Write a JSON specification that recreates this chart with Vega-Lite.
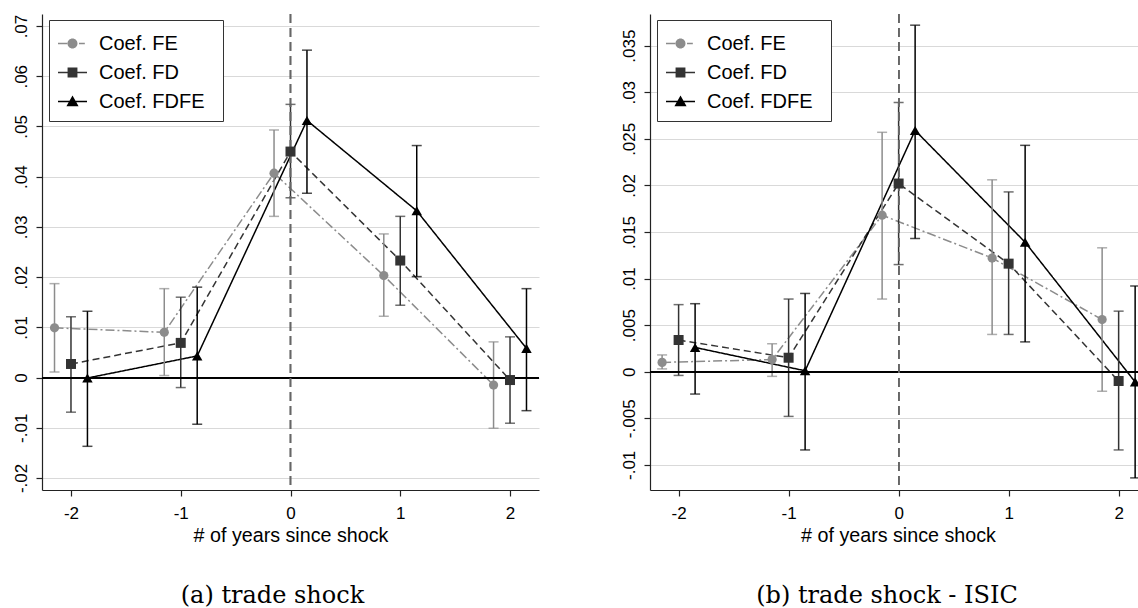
{
  "$schema": "https://vega.github.io/schema/vega-lite/v6.json",
  "background": "white",
  "padding": {"left": 11, "top": 13, "right": 0, "bottom": 0},
  "bounds": "flush",
  "spacing": 111,
  "datasets": {
    "a": [
      {"series": "Coef. FE", "x": -2.15, "coef": 0.0099, "lo": 0.0011, "hi": 0.0187},
      {"series": "Coef. FE", "x": -1.15, "coef": 0.0090, "lo": 0.0004, "hi": 0.0177},
      {"series": "Coef. FE", "x": -0.15, "coef": 0.0407, "lo": 0.0321, "hi": 0.0493},
      {"series": "Coef. FE", "x": 0.85, "coef": 0.0203, "lo": 0.0122, "hi": 0.0286},
      {"series": "Coef. FE", "x": 1.85, "coef": -0.0015, "lo": -0.0101, "hi": 0.0071},
      {"series": "Coef. FD", "x": -2, "coef": 0.0027, "lo": -0.0069, "hi": 0.0121},
      {"series": "Coef. FD", "x": -1, "coef": 0.0069, "lo": -0.0020, "hi": 0.0160},
      {"series": "Coef. FD", "x": 0, "coef": 0.0450, "lo": 0.0358, "hi": 0.0544},
      {"series": "Coef. FD", "x": 1, "coef": 0.0233, "lo": 0.0144, "hi": 0.0321},
      {"series": "Coef. FD", "x": 2, "coef": -0.0005, "lo": -0.0091, "hi": 0.0081},
      {"series": "Coef. FDFE", "x": -1.85, "coef": -0.0001, "lo": -0.0137, "hi": 0.0132},
      {"series": "Coef. FDFE", "x": -0.85, "coef": 0.0043, "lo": -0.0093, "hi": 0.0180},
      {"series": "Coef. FDFE", "x": 0.15, "coef": 0.0512, "lo": 0.0367, "hi": 0.0652},
      {"series": "Coef. FDFE", "x": 1.15, "coef": 0.0332, "lo": 0.0201, "hi": 0.0462},
      {"series": "Coef. FDFE", "x": 2.15, "coef": 0.0058, "lo": -0.0066, "hi": 0.0177}
    ],
    "b": [
      {"series": "Coef. FE", "x": -2.15, "coef": 0.0010, "lo": 0.0003, "hi": 0.0018},
      {"series": "Coef. FE", "x": -1.15, "coef": 0.0013, "lo": -0.0005, "hi": 0.0030},
      {"series": "Coef. FE", "x": -0.15, "coef": 0.0168, "lo": 0.0078, "hi": 0.0257},
      {"series": "Coef. FE", "x": 0.85, "coef": 0.0122, "lo": 0.0040, "hi": 0.0206},
      {"series": "Coef. FE", "x": 1.85, "coef": 0.0056, "lo": -0.0021, "hi": 0.0133},
      {"series": "Coef. FD", "x": -2, "coef": 0.0034, "lo": -0.0004, "hi": 0.0072},
      {"series": "Coef. FD", "x": -1, "coef": 0.0015, "lo": -0.0048, "hi": 0.0078},
      {"series": "Coef. FD", "x": 0, "coef": 0.0202, "lo": 0.0115, "hi": 0.0289},
      {"series": "Coef. FD", "x": 1, "coef": 0.0116, "lo": 0.0040, "hi": 0.0193},
      {"series": "Coef. FD", "x": 2, "coef": -0.0010, "lo": -0.0084, "hi": 0.0065},
      {"series": "Coef. FDFE", "x": -1.85, "coef": 0.0026, "lo": -0.0024, "hi": 0.0073},
      {"series": "Coef. FDFE", "x": -0.85, "coef": 0.0001, "lo": -0.0084, "hi": 0.0084},
      {"series": "Coef. FDFE", "x": 0.15, "coef": 0.0259, "lo": 0.0143, "hi": 0.0372},
      {"series": "Coef. FDFE", "x": 1.15, "coef": 0.0139, "lo": 0.0032, "hi": 0.0243},
      {"series": "Coef. FDFE", "x": 2.15, "coef": -0.0011, "lo": -0.0114, "hi": 0.0092}
    ]
  },
  "hconcat": [
    {
      "width": 497,
      "height": 476,
      "data": {"name": "a"},
      "title": {"text": "(a) trade shock", "orient": "bottom", "anchor": "middle", "frame": "group", "font": "DejaVu Serif", "fontSize": 24, "fontWeight": "normal", "color": "black", "offset": 39, "dx": -18},
      "layer": [
        {
          "mark": {"type": "line", "strokeWidth": 1.5},
          "encoding": {
            "x": {"field": "x", "type": "quantitative", "title": "# of years since shock",
                  "scale": {"domain": [-2.264, 2.264], "nice": false, "zero": false},
                  "axis": {"values": [-2, -1, 0, 1, 2], "grid": false, "labelExpr": "datum.value < 0 ? '-' + format(-datum.value, 'd') : format(datum.value, 'd')"}},
            "y": {"field": "coef", "type": "quantitative",
                  "scale": {"domain": [-0.0224, 0.0724], "nice": false, "zero": false},
                  "axis": {"title": null, "values": [-0.02, -0.01, 0, 0.01, 0.02, 0.03, 0.04, 0.05, 0.06, 0.07], "grid": true, "labelAngle": -90, "labelAlign": "center", "labelBaseline": "alphabetic", "labelPadding": 10,
                           "labelExpr": "datum.value < 0 ? '-' + replace(format(-datum.value, '~g'), '0.', '.') : replace(format(datum.value, '~g'), '0.', '.')"}},
            "color": {"field": "series", "type": "nominal", "legend": null, "scale": {"domain": ["Coef. FD", "Coef. FDFE", "Coef. FE"], "range": ["#333333", "#000000", "#8c8c8c"]}},
            "strokeDash": {"field": "series", "type": "nominal", "legend": null, "scale": {"domain": ["Coef. FD", "Coef. FDFE", "Coef. FE"], "range": [[7, 4], [1, 0], [9, 3, 2, 3]]}}
          }
        },
        {
          "mark": {"type": "rule", "strokeWidth": 1.5},
          "encoding": {
            "x": {"field": "x", "type": "quantitative", "title": "# of years since shock"},
            "y": {"field": "lo", "type": "quantitative"},
            "y2": {"field": "hi"},
            "color": {"field": "series", "type": "nominal", "legend": null}
          }
        },
        {
          "mark": {"type": "tick", "orient": "horizontal", "size": 10, "thickness": 1.5},
          "encoding": {
            "x": {"field": "x", "type": "quantitative", "title": "# of years since shock"},
            "y": {"field": "lo", "type": "quantitative"},
            "color": {"field": "series", "type": "nominal", "legend": null}
          }
        },
        {
          "mark": {"type": "tick", "orient": "horizontal", "size": 10, "thickness": 1.5},
          "encoding": {
            "x": {"field": "x", "type": "quantitative", "title": "# of years since shock"},
            "y": {"field": "hi", "type": "quantitative"},
            "color": {"field": "series", "type": "nominal", "legend": null}
          }
        },
        {
          "mark": {"type": "rule", "color": "#000000", "strokeWidth": 1.2},
          "encoding": {"y": {"datum": 0, "type": "quantitative"}}
        },
        {
          "mark": {"type": "rule", "color": "#666666", "strokeWidth": 1.1, "strokeDash": [9, 5]},
          "encoding": {"x": {"datum": 0, "type": "quantitative"}}
        },
        {
          "transform": [{"filter": "datum.series === 'Coef. FE'"}],
          "mark": {"type": "point", "shape": "circle", "filled": true, "color": "#8c8c8c", "size": 85, "opacity": 1},
          "encoding": {
            "x": {"field": "x", "type": "quantitative", "title": "# of years since shock"},
            "y": {"field": "coef", "type": "quantitative"}
          }
        },
        {
          "transform": [{"filter": "datum.series === 'Coef. FD'"}],
          "mark": {"type": "point", "shape": "square", "filled": true, "color": "#333333", "size": 100, "opacity": 1},
          "encoding": {
            "x": {"field": "x", "type": "quantitative", "title": "# of years since shock"},
            "y": {"field": "coef", "type": "quantitative"}
          }
        },
        {
          "transform": [{"filter": "datum.series === 'Coef. FDFE'"}],
          "mark": {"type": "point", "shape": "triangle-up", "filled": true, "color": "#000000", "size": 110, "opacity": 1},
          "encoding": {
            "x": {"field": "x", "type": "quantitative", "title": "# of years since shock"},
            "y": {"field": "coef", "type": "quantitative"}
          }
        },
        {
          "transform": [{"filter": "false"}],
          "mark": {"type": "point", "filled": true, "opacity": 1, "strokeWidth": 0},
          "encoding": {
            "fill": {"field": "series", "type": "nominal",
                     "scale": {"domain": ["Coef. FE", "Coef. FD", "Coef. FDFE"], "range": ["#8c8c8c", "#333333", "#000000"]},
                     "legend": {"title": " ", "orient": "none", "legendX": 7, "legendY": 6}},
            "shape": {"field": "series", "type": "nominal",
                      "scale": {"domain": ["Coef. FE", "Coef. FD", "Coef. FDFE"],
                                "range": ["M-1,-0.05H-0.36V0.05H-1Z M0.45,-0.05H0.85V0.05H0.45Z M-0.345,0A0.345,0.345 0 1,1 0.345,0A0.345,0.345 0 1,1 -0.345,0Z",
                                          "M-1,-0.05H-0.34V0.05H-1Z M0.34,-0.05H1V0.05H0.34Z M-0.34,-0.34H0.34V0.34H-0.34Z",
                                          "M-1,-0.05H-0.2V0.05H-1Z M0.2,-0.05H1V0.05H0.2Z M0,-0.42L0.42,0.32L-0.42,0.32Z"]},
                      "legend": {"title": " ", "orient": "none", "legendX": 7, "legendY": 6}}
          }
        }
      ]
    },
    {
      "width": 488,
      "height": 476,
      "data": {"name": "b"},
      "title": {"text": "(b) trade shock - ISIC", "orient": "bottom", "anchor": "middle", "frame": "group", "font": "DejaVu Serif", "fontSize": 24, "fontWeight": "normal", "color": "black", "offset": 39, "dx": -7},
      "layer": [
        {
          "mark": {"type": "line", "strokeWidth": 1.5},
          "encoding": {
            "x": {"field": "x", "type": "quantitative", "title": "# of years since shock",
                  "scale": {"domain": [-2.26, 2.176], "nice": false, "zero": false},
                  "axis": {"values": [-2, -1, 0, 1, 2], "grid": false, "titleX": 248, "labelExpr": "datum.value < 0 ? '-' + format(-datum.value, 'd') : format(datum.value, 'd')"}},
            "y": {"field": "coef", "type": "quantitative",
                  "scale": {"domain": [-0.0127, 0.0384], "nice": false, "zero": false},
                  "axis": {"title": null, "values": [-0.01, -0.005, 0, 0.005, 0.01, 0.015, 0.02, 0.025, 0.03, 0.035], "grid": true, "labelAngle": -90, "labelAlign": "center", "labelBaseline": "alphabetic", "labelPadding": 10,
                           "labelExpr": "datum.value < 0 ? '-' + replace(format(-datum.value, '~g'), '0.', '.') : replace(format(datum.value, '~g'), '0.', '.')"}},
            "color": {"field": "series", "type": "nominal", "legend": null, "scale": {"domain": ["Coef. FD", "Coef. FDFE", "Coef. FE"], "range": ["#333333", "#000000", "#8c8c8c"]}},
            "strokeDash": {"field": "series", "type": "nominal", "legend": null, "scale": {"domain": ["Coef. FD", "Coef. FDFE", "Coef. FE"], "range": [[7, 4], [1, 0], [9, 3, 2, 3]]}}
          }
        },
        {
          "mark": {"type": "rule", "strokeWidth": 1.5},
          "encoding": {
            "x": {"field": "x", "type": "quantitative", "title": "# of years since shock"},
            "y": {"field": "lo", "type": "quantitative"},
            "y2": {"field": "hi"},
            "color": {"field": "series", "type": "nominal", "legend": null}
          }
        },
        {
          "mark": {"type": "tick", "orient": "horizontal", "size": 10, "thickness": 1.5},
          "encoding": {
            "x": {"field": "x", "type": "quantitative", "title": "# of years since shock"},
            "y": {"field": "lo", "type": "quantitative"},
            "color": {"field": "series", "type": "nominal", "legend": null}
          }
        },
        {
          "mark": {"type": "tick", "orient": "horizontal", "size": 10, "thickness": 1.5},
          "encoding": {
            "x": {"field": "x", "type": "quantitative", "title": "# of years since shock"},
            "y": {"field": "hi", "type": "quantitative"},
            "color": {"field": "series", "type": "nominal", "legend": null}
          }
        },
        {
          "mark": {"type": "rule", "color": "#000000", "strokeWidth": 1.2},
          "encoding": {"y": {"datum": 0, "type": "quantitative"}}
        },
        {
          "mark": {"type": "rule", "color": "#666666", "strokeWidth": 1.1, "strokeDash": [9, 5]},
          "encoding": {"x": {"datum": 0, "type": "quantitative"}}
        },
        {
          "transform": [{"filter": "datum.series === 'Coef. FE'"}],
          "mark": {"type": "point", "shape": "circle", "filled": true, "color": "#8c8c8c", "size": 85, "opacity": 1},
          "encoding": {
            "x": {"field": "x", "type": "quantitative", "title": "# of years since shock"},
            "y": {"field": "coef", "type": "quantitative"}
          }
        },
        {
          "transform": [{"filter": "datum.series === 'Coef. FD'"}],
          "mark": {"type": "point", "shape": "square", "filled": true, "color": "#333333", "size": 100, "opacity": 1},
          "encoding": {
            "x": {"field": "x", "type": "quantitative", "title": "# of years since shock"},
            "y": {"field": "coef", "type": "quantitative"}
          }
        },
        {
          "transform": [{"filter": "datum.series === 'Coef. FDFE'"}],
          "mark": {"type": "point", "shape": "triangle-up", "filled": true, "color": "#000000", "size": 110, "opacity": 1},
          "encoding": {
            "x": {"field": "x", "type": "quantitative", "title": "# of years since shock"},
            "y": {"field": "coef", "type": "quantitative"}
          }
        },
        {
          "transform": [{"filter": "false"}],
          "mark": {"type": "point", "filled": true, "opacity": 1, "strokeWidth": 0},
          "encoding": {
            "fill": {"field": "series", "type": "nominal",
                     "scale": {"domain": ["Coef. FE", "Coef. FD", "Coef. FDFE"], "range": ["#8c8c8c", "#333333", "#000000"]},
                     "legend": {"title": " ", "orient": "none", "legendX": 7, "legendY": 6}},
            "shape": {"field": "series", "type": "nominal",
                      "scale": {"domain": ["Coef. FE", "Coef. FD", "Coef. FDFE"],
                                "range": ["M-1,-0.05H-0.36V0.05H-1Z M0.45,-0.05H0.85V0.05H0.45Z M-0.345,0A0.345,0.345 0 1,1 0.345,0A0.345,0.345 0 1,1 -0.345,0Z",
                                          "M-1,-0.05H-0.34V0.05H-1Z M0.34,-0.05H1V0.05H0.34Z M-0.34,-0.34H0.34V0.34H-0.34Z",
                                          "M-1,-0.05H-0.2V0.05H-1Z M0.2,-0.05H1V0.05H0.2Z M0,-0.42L0.42,0.32L-0.42,0.32Z"]},
                      "legend": {"title": " ", "orient": "none", "legendX": 7, "legendY": 6}}
          }
        }
      ]
    }
  ],
  "resolve": {
    "scale": {"color": "independent", "fill": "independent", "shape": "independent", "strokeDash": "independent", "x": "independent", "y": "independent"},
    "legend": {"fill": "independent", "shape": "independent"}
  },
  "config": {
    "view": {"stroke": null},
    "font": "Liberation Sans",
    "axis": {
      "labelFont": "Liberation Sans", "labelFontSize": 17, "labelColor": "#000000",
      "titleFont": "Liberation Sans", "titleFontSize": 19.7, "titleFontWeight": "normal", "titleColor": "#000000",
      "domainColor": "#222222", "domainWidth": 1.2, "tickColor": "#222222", "tickWidth": 1.2, "tickSize": 6,
      "gridColor": "#d9d9d9", "gridWidth": 1.2
    },
    "axisX": {"labelPadding": 9, "titlePadding": 4, "labelFlush": false},
    "legend": {
      "strokeColor": "#333333", "fillColor": "#ffffff", "padding": 9, "cornerRadius": 0,
      "labelFont": "Liberation Sans", "labelFontSize": 20, "labelColor": "#000000", "labelOffset": 12, "labelLimit": 300,
      "symbolSize": 841, "symbolStrokeWidth": 0, "symbolOffset": 0, "rowPadding": 4,
      "titleOrient": "right", "titlePadding": 9, "titleFontSize": 20, "titleFont": "Liberation Sans"
    }
  }
}
